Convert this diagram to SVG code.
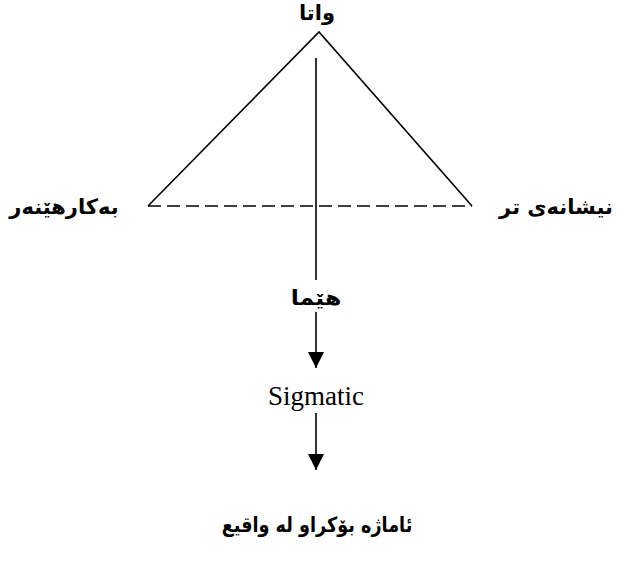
<svg xmlns="http://www.w3.org/2000/svg" width="617" height="569" viewBox="0 0 617 569">
<style>
.ar{font-family:"DejaVu Sans","Noto Sans",sans-serif;font-weight:bold;font-size:21px;fill:#000;text-anchor:middle}
.en{font-family:"Liberation Serif","Times New Roman",serif;font-size:27px;fill:#000;text-anchor:middle}
.ln{stroke:#000;stroke-width:1.6;fill:none}
</style>
<defs>
<marker id="arr" viewBox="0 0 16 16" refX="16" refY="8" markerWidth="16" markerHeight="16" markerUnits="userSpaceOnUse" orient="auto">
<path d="M0,0 L16,8 L0,16 Z" fill="#000"/>
</marker>
</defs>
<g id="connectors">
<path class="ln" d="M148,206 L319,32 L472,206"/>
<line class="ln" x1="148" y1="206" x2="472" y2="206" stroke-dasharray="13,6"/>
<line class="ln" x1="316" y1="58" x2="316" y2="280"/>
<line class="ln" x1="316" y1="312" x2="316" y2="368" marker-end="url(#arr)"/>
<line class="ln" x1="316" y1="413" x2="316" y2="470" marker-end="url(#arr)"/>
</g>
<g id="node-wata"><text class="ar" x="317" y="20" direction="rtl">واتا</text></g>
<g id="node-user"><text class="ar" x="64" y="214" direction="rtl">بەکارهێنەر</text></g>
<g id="node-other"><text class="ar" x="556" y="214" direction="rtl">نیشانەی تر</text></g>
<g id="node-sign"><text class="ar" x="316" y="305" direction="rtl" transform="translate(316,0) scale(1.12,1) translate(-316,0)">هێما</text></g>
<g id="node-sigmatic"><text class="en" x="316" y="405">Sigmatic</text></g>
<g id="node-referent"><text class="ar" x="0" y="0" direction="rtl" transform="translate(317,532) scale(0.84,1)">ئاماژە بۆکراو لە واقیع</text></g>
</svg>
